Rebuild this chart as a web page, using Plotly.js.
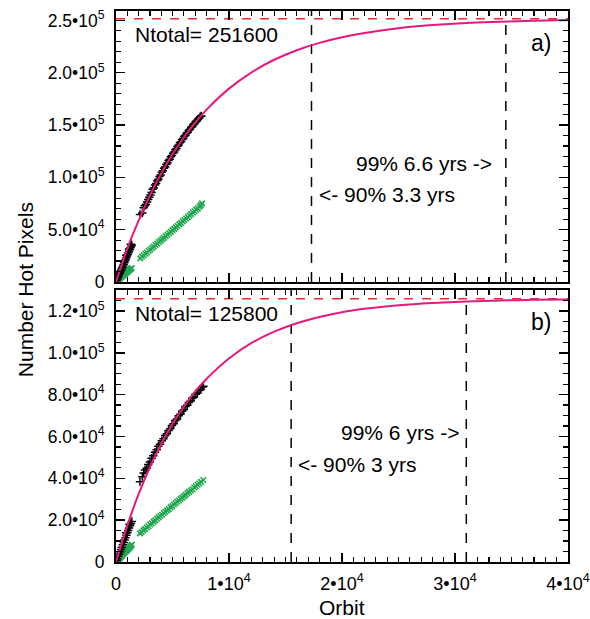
<!DOCTYPE html>
<html><head><meta charset="utf-8">
<script src="https://cdn.plot.ly/plotly-3.0.1.min.js"></script>
<style>html,body{margin:0;padding:0;background:#fff}</style>
</head><body><div id="plot" style="width:590px;height:619px"></div>
<script>
// ---------- Panel a) ----------
var ntotalA = 251600;
var t90A = 17300, t99A = 34500;
var blackA1_x = [50,100,150,200,260,320,380,440,500,560,620,680,740,800,860,920,980,1040,1100,1160,1220,1280,1340,1400,700,900,1150,1300];
var blackA1_y = [1500,2800,4000,5500,6800,8300,9600,11000,12400,13800,15300,16800,18500,20000,21500,23200,24800,26300,28000,29600,31000,32600,34000,35300,19500,25500,31500,36000];
var blackA2_x = [2120,2330,2450,2550,2650,2750,2850,2950,3050,3150,3250,3350,3450,3550,3650,3750,3850,3950,4050,4150,4250,4350,4450,4550,4650,4750,4850,4950,5050,5150,5250,5350,5450,5550,5650,5750,5850,5950,6050,6150,6250,6350,6450,6550,6650,6750,6850,6950,7050,7150,7250,7350,7450,7550];
var blackA2_y = [64500,66000,71000,72800,74000,76500,78800,81000,83200,85500,88600,90000,92800,94200,96800,98300,100900,102200,104800,106200,108600,110000,112300,113700,116000,117200,119600,120800,123000,124300,126500,127600,129800,130900,133000,134100,136200,137200,139200,140300,142200,143200,145000,146000,147900,148700,150500,151400,153100,153900,155600,156400,158000,158600];
var greenA1_x = [50,120,200,280,360,440,520,600,680,760,840,920,1000,1080,1160,1240,1320,1400];
var greenA1_y = [600,1300,2000,2900,3600,4500,5200,6000,6800,7500,8300,9000,9700,10500,11200,12000,12600,13400];
var greenA2_x = [2150,2300,2450,2600,2750,2900,3050,3200,3350,3500,3650,3800,3950,4100,4250,4400,4550,4700,4850,5000,5150,5300,5450,5600,5750,5900,6050,6200,6350,6500,6650,6800,6950,7100,7250,7400,7500,7610];
var greenA2_y = [22600,24300,25500,27000,28200,29800,31000,32600,33900,35300,36600,38200,39500,41000,42200,43800,45100,46600,47900,49500,50700,52200,53500,55100,56300,57900,59200,60700,62000,63500,64800,66400,67600,69200,70400,72000,73400,75100];
var curveA_x = [0,1000,2000,3000,4000,5000,6000,7000,8000,10000,12000,14000,16000,18000,20000,22000,25000,28000,31000,34000,37000,40000];
var curveA_y = [0,31800,58600,82600,103600,122000,138100,152200,164500,184800,200400,212400,221500,228500,233900,238000,242500,245500,247500,248800,249700,250300];

// ---------- Panel b) ----------
var ntotalB = 125800;
var t90B = 15500, t99B = 31000;
var blackB1_x = [50,120,200,280,360,440,520,600,680,760,840,920,1000,1080,1160,1240,1320,1400,900,1200];
var blackB1_y = [700,1600,2700,3800,4900,6000,7100,8200,9300,10500,11600,12800,14000,15100,16200,17300,18400,19400,14000,18000];
var blackB2_x = [2120,2330,2450,2570,2710,2850,3000,3150,3300,3450,3600,3750,3900,4050,4200,4350,4500,4650,4800,4950,5100,5250,5400,5550,5700,5850,6000,6150,6300,6450,6600,6750,6900,7050,7200,7350,7500,7650,7730];
var blackB2_y = [38400,40800,42500,44000,44800,46600,47800,49600,50800,52500,53600,55300,56300,57900,58900,60500,61300,62900,63700,65300,66100,67600,68400,69900,70600,72100,72800,74300,74900,76300,76900,78300,78900,80200,80800,82000,82600,83700,84000];
var greenB1_x = [50,120,200,280,360,440,520,600,680,760,840,920,1000,1080,1160,1240,1320,1400];
var greenB1_y = [300,700,1150,1600,2100,2550,3000,3500,3950,4400,4900,5300,5800,6300,6700,7200,7700,8300];
var greenB2_x = [2120,2270,2420,2570,2720,2870,3020,3170,3320,3470,3620,3770,3920,4070,4220,4370,4520,4670,4820,4970,5120,5270,5420,5570,5720,5870,6020,6170,6320,6470,6620,6770,6920,7070,7220,7370,7520,7730];
var greenB2_y = [13700,14300,15100,15700,16500,17100,17900,18500,19300,19900,20700,21300,22000,22600,23400,24000,24700,25300,26100,26700,27500,28100,28800,29400,30200,30800,31500,32100,32900,33500,34200,34800,35600,36200,36900,37500,38300,39200];
var curveB_x = [0,1000,2000,3000,4000,5000,6000,7000,8000,10000,12000,14000,16000,18000,20000,22000,25000,28000,31000,34000,37000,40000];
var curveB_y = [0,17400,32400,45300,56400,66000,74200,81400,87500,97300,104700,110100,114100,117100,119400,121000,122700,123800,124500,125000,125300,125500];

// ---------- Axis ticks ----------
var xTickVals = [0,10000,20000,30000,40000];
var xTickText = ['0','1\u202210<sup>4</sup>','2\u202210<sup>4</sup>','3\u202210<sup>4</sup>','4\u202210<sup>4</sup>'];
var yTickValsA = [0,50000,100000,150000,200000,250000];
var yTickTextA = ['0','5.0\u202210<sup>4</sup>','1.0\u202210<sup>5</sup>','1.5\u202210<sup>5</sup>','2.0\u202210<sup>5</sup>','2.5\u202210<sup>5</sup>'];
var yTickValsB = [0,20000,40000,60000,80000,100000,120000];
var yTickTextB = ['0','2.0\u202210<sup>4</sup>','4.0\u202210<sup>4</sup>','6.0\u202210<sup>4</sup>','8.0\u202210<sup>4</sup>','1.0\u202210<sup>5</sup>','1.2\u202210<sup>5</sup>'];
var xMax = 40000, yMaxA = 259000, yMaxB = 130000;

var FONT = 'Liberation Sans, Arial, Helvetica, sans-serif';
var PINK = '#e8197c', RED = '#ee2a2e', GREEN = '#1da64c';

function blackTrace(x, y, xa, ya) {
  return {x:x, y:y, xaxis:xa, yaxis:ya, mode:'markers', type:'scatter', hoverinfo:'skip',
    marker:{symbol:'cross-thin', size:6, color:'black', line:{color:'black', width:1.5}}};
}
function greenTrace(x, y, xa, ya) {
  return {x:x, y:y, xaxis:xa, yaxis:ya, mode:'markers', type:'scatter', hoverinfo:'skip',
    marker:{symbol:'x-thin', size:5.5, color:GREEN, line:{color:GREEN, width:1.6}}};
}
function curveTrace(x, y, xa, ya) {
  return {x:x, y:y, xaxis:xa, yaxis:ya, mode:'lines', type:'scatter', hoverinfo:'skip',
    line:{color:PINK, width:2, shape:'spline', smoothing:0.6}};
}
function hLine(v, xa, ya) {
  return {x:[0, xMax], y:[v, v], xaxis:xa, yaxis:ya, mode:'lines', type:'scatter', hoverinfo:'skip',
    line:{color:RED, width:1.5, dash:'9px,9px'}};
}
function vLine(v, top, xa, ya) {
  return {x:[v, v], y:[0, top], xaxis:xa, yaxis:ya, mode:'lines', type:'scatter', hoverinfo:'skip',
    line:{color:'black', width:1.5, dash:'10px,9px'}};
}

var data = [
  vLine(t90A, yMaxA, 'x2', 'y2'), vLine(t99A, yMaxA, 'x2', 'y2'),
  hLine(ntotalA, 'x2', 'y2'),
  greenTrace(greenA1_x, greenA1_y, 'x2', 'y2'), greenTrace(greenA2_x, greenA2_y, 'x2', 'y2'),
  blackTrace(blackA1_x, blackA1_y, 'x2', 'y2'), blackTrace(blackA2_x, blackA2_y, 'x2', 'y2'),
  curveTrace(curveA_x, curveA_y, 'x2', 'y2'),
  vLine(t90B, yMaxB, 'x', 'y'), vLine(t99B, yMaxB, 'x', 'y'),
  hLine(ntotalB, 'x', 'y'),
  greenTrace(greenB1_x, greenB1_y, 'x', 'y'), greenTrace(greenB2_x, greenB2_y, 'x', 'y'),
  blackTrace(blackB1_x, blackB1_y, 'x', 'y'), blackTrace(blackB2_x, blackB2_y, 'x', 'y'),
  curveTrace(curveB_x, curveB_y, 'x', 'y')
];

function xAxis(anchor, showLabels) {
  return {anchor:anchor, domain:[0,1], range:[0, xMax], tickmode:'array', tickvals:xTickVals,
    ticktext:xTickText, showticklabels:showLabels, ticks:'inside', ticklen:9, tickwidth:1.5,
    tickcolor:'black', showline:true, linewidth:2, linecolor:'black', mirror:'ticks',
    showgrid:false, zeroline:false, ticklabelstandoff:4,
    tickfont:{family:FONT, size:18, color:'black'},
    minor:{tickmode:'linear', tick0:0, dtick:1000, ticks:'inside', ticklen:5, tickwidth:1.2, tickcolor:'black', showgrid:false}};
}
function yAxis(anchor, dom, ymax, vals, txt, mdt) {
  return {anchor:anchor, domain:dom, range:[0, ymax], tickmode:'array', tickvals:vals, ticktext:txt,
    ticks:'inside', ticklen:9, tickwidth:1.5, tickcolor:'black', showline:true, linewidth:2,
    linecolor:'black', mirror:'ticks', showgrid:false, zeroline:false, ticklabelstandoff:6,
    tickfont:{family:FONT, size:17.5, color:'black'},
    minor:{tickmode:'linear', tick0:0, dtick:mdt, ticks:'inside', ticklen:5, tickwidth:1.2, tickcolor:'black', showgrid:false}};
}

var AF = {family:FONT, size:21, color:'black'};
var layout = {
  width:590, height:619, showlegend:false,
  margin:{l:116, r:22, t:11, b:57, pad:0},
  paper_bgcolor:'white', plot_bgcolor:'white',
  xaxis: xAxis('y', true),
  yaxis: yAxis('x', [0, 0.4936], yMaxB, yTickValsB, yTickTextB, 5000),
  xaxis2: xAxis('y2', false),
  yaxis2: yAxis('x2', [0.5082, 1], yMaxA, yTickValsA, yTickTextA, 10000),
  annotations:[
    {xref:'x2', yref:'y2', x:1500, y:236600, text:'Ntotal= 251600', showarrow:false, xanchor:'left', yanchor:'middle', font:AF},
    {xref:'x2', yref:'y2', x:37600, y:228500, text:'a)', showarrow:false, xanchor:'center', yanchor:'middle', font:{family:FONT, size:23, color:'black'}},
    {xref:'x2', yref:'y2', x:33450, y:113500, text:'99% 6.6 yrs ->', showarrow:false, xanchor:'right', yanchor:'middle', font:AF},
    {xref:'x2', yref:'y2', x:17750, y:84000, text:'<- 90% 3.3 yrs', showarrow:false, xanchor:'left', yanchor:'middle', font:AF},
    {xref:'x', yref:'y', x:1500, y:119000, text:'Ntotal= 125800', showarrow:false, xanchor:'left', yanchor:'middle', font:AF},
    {xref:'x', yref:'y', x:37600, y:114700, text:'b)', showarrow:false, xanchor:'center', yanchor:'middle', font:{family:FONT, size:23, color:'black'}},
    {xref:'x', yref:'y', x:30530, y:61700, text:'99% 6 yrs ->', showarrow:false, xanchor:'right', yanchor:'middle', font:AF},
    {xref:'x', yref:'y', x:15930, y:46800, text:'<- 90% 3 yrs', showarrow:false, xanchor:'left', yanchor:'middle', font:AF},
    {xref:'paper', yref:'paper', x:-0.201, y:0.4936, text:'Number Hot Pixels', textangle:-90, showarrow:false, xanchor:'center', yanchor:'middle', font:{family:FONT, size:21, color:'black'}},
    {xref:'paper', yref:'paper', x:0.5, y:-0.0817, text:'Orbit', showarrow:false, xanchor:'center', yanchor:'middle', font:{family:FONT, size:21, color:'black'}}
  ]
};

Plotly.newPlot('plot', data, layout, {staticPlot:true, displayModeBar:false});
</script>
</body></html>
